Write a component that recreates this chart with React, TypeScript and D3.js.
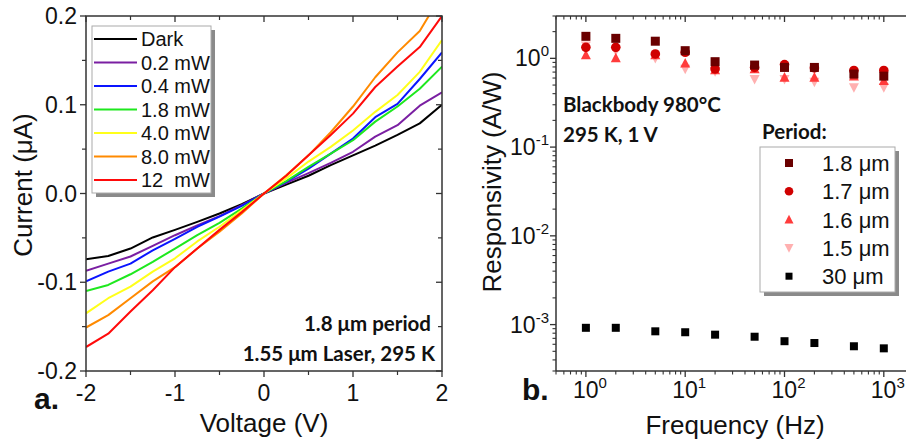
import React from "react";
import * as d3 from "d3";

// ---------- Panel a data ----------
const voltages = [-2, -1.75, -1.5, -1.25, -1, -0.75, -0.5, -0.25, 0, 0.25, 0.5, 0.75, 1, 1.25, 1.5, 1.75, 2];
const ivLabels = ["Dark", "0.2 mW", "0.4 mW", "1.8 mW", "4.0 mW", "8.0 mW", "12  mW"];
const ivColors = ["#000000", "#7a1fa2", "#0a14ff", "#1ee81e", "#ffff1a", "#ff8a00", "#ff0a0a"];
const ivDark = [-0.074, -0.0705, -0.062, -0.0495, -0.041, -0.032, -0.0225, -0.012, 0, 0.01, 0.02, 0.032, 0.043, 0.054, 0.066, 0.079, 0.1];
const iv02 = [-0.087, -0.079, -0.071, -0.059, -0.047, -0.036, -0.0255, -0.013, 0, 0.012, 0.023, 0.0345, 0.047, 0.064, 0.077, 0.099, 0.114];
const iv04 = [-0.099, -0.088, -0.079, -0.064, -0.051, -0.0375, -0.026, -0.014, 0, 0.013, 0.028, 0.045, 0.062, 0.086, 0.101, 0.129, 0.159];
const iv18 = [-0.11, -0.103, -0.091, -0.077, -0.062, -0.047, -0.033, -0.017, 0, 0.014, 0.03, 0.045, 0.06, 0.081, 0.098, 0.118, 0.143];
const iv40 = [-0.135, -0.118, -0.105, -0.088, -0.073, -0.054, -0.0375, -0.019, 0, 0.017, 0.036, 0.0525, 0.071, 0.092, 0.111, 0.137, 0.173];
const iv80 = [-0.151, -0.137, -0.118, -0.099, -0.083, -0.062, -0.043, -0.0225, 0, 0.0205, 0.043, 0.069, 0.098, 0.131, 0.159, 0.183, 0.225];
const iv12 = [-0.173, -0.158, -0.133, -0.109, -0.083, -0.062, -0.041, -0.021, 0, 0.02, 0.043, 0.066, 0.09, 0.12, 0.143, 0.165, 0.2];
const ivSeries = [ivDark, iv02, iv04, iv18, iv40, iv80, iv12];
const aXTicks = [-2, -1, 0, 1, 2];
const aYTicks = [-0.2, -0.1, 0, 0.1, 0.2];
const aYTickLabels = ["-0.2", "-0.1", "0.0", "0.1", "0.2"];

// ---------- Panel b data ----------
const freqs = [1, 2, 5, 10, 20, 50, 100, 200, 500, 1000];
const periodLabels = ["1.8 μm", "1.7 μm", "1.6 μm", "1.5 μm", "30 μm"];
const periodColors = ["#6a0000", "#d00000", "#ff3b3b", "#ffb0b0", "#000000"];
const periodShapes = ["square", "circle", "triangle", "triangleDown", "square"];
const r18 = [1.77, 1.68, 1.56, 1.22, 0.917, 0.84, 0.79, 0.79, 0.665, 0.63];
const r17 = [1.33, 1.33, 1.12, 1.17, 0.76, 0.79, 0.85, 0.78, 0.73, 0.73];
const r16 = [1.09, 1.01, 1.09, 0.88, 0.74, 0.76, 0.61, 0.61, 0.63, 0.56];
const r15 = [1.39, 1.22, 1.0, 0.76, 0.71, 0.58, 0.58, 0.54, 0.47, 0.47];
const r30 = [0.00092, 0.00092, 0.00084, 0.00082, 0.00077, 0.00073, 0.00065, 0.00062, 0.00057, 0.00054];
const respSeries = [r18, r17, r16, r15, r30];
const drawOrder = [3, 2, 1, 0, 4];

const FONT = "'Liberation Sans', Arial, sans-serif";
const BOLDFONT = "Lato, 'Open Sans', sans-serif";
const AX = "#333";

function Marker({ shape, x, y, color, s = 9 }: any) {
  if (shape === "square") return <rect x={x - s / 2} y={y - s / 2} width={s} height={s} fill={color} />;
  if (shape === "circle") return <circle cx={x} cy={y} r={s / 2 + 0.3} fill={color} />;
  const h = s * 0.95;
  if (shape === "triangle")
    return <path d={`M${x},${y - h / 2 - 1} L${x + s / 2 + 0.5},${y + h / 2} L${x - s / 2 - 0.5},${y + h / 2} Z`} fill={color} />;
  return <path d={`M${x},${y + h / 2 + 1} L${x + s / 2 + 0.5},${y - h / 2} L${x - s / 2 - 0.5},${y - h / 2} Z`} fill={color} />;
}

function PanelA() {
  const x = d3.scaleLinear().domain([-2, 2]).range([86, 442]);
  const y = d3.scaleLinear().domain([-0.2, 0.2]).range([371, 16]);
  const line = d3.line<number>().x((_, i) => x(voltages[i])).y((d) => y(d));
  const minorX = d3.range(-1.5, 2, 1);
  const minorY = d3.range(-0.15, 0.2, 0.1);
  return (
    <g>
      <defs>
        <clipPath id="clipA">
          <rect x={86} y={16} width={356} height={355} />
        </clipPath>
      </defs>
      <g clipPath="url(#clipA)">
        {ivSeries.map((s, i) => (
          <path key={i} d={line(s) || ""} fill="none" stroke={ivColors[i]} strokeWidth={2} strokeLinejoin="round" />
        ))}
      </g>
      <rect x={86} y={16} width={356} height={355} fill="none" stroke={AX} strokeWidth={1.5} />
      {aXTicks.map((t) => (
        <g key={"xt" + t}>
          <line x1={x(t)} x2={x(t)} y1={371} y2={377} stroke={AX} strokeWidth={1.3} />
          <line x1={x(t)} x2={x(t)} y1={16} y2={22} stroke={AX} strokeWidth={1.3} />
          <text x={x(t)} y={401} textAnchor="middle" fontFamily={FONT} fontSize={23} fill="#111">
            {t < 0 ? "-" + Math.abs(t) : String(t)}
          </text>
        </g>
      ))}
      {minorX.map((t) => (
        <g key={"xm" + t}>
          <line x1={x(t)} x2={x(t)} y1={371} y2={375} stroke={AX} strokeWidth={1.2} />
          <line x1={x(t)} x2={x(t)} y1={16} y2={20} stroke={AX} strokeWidth={1.2} />
        </g>
      ))}
      {aYTicks.map((t, i) => (
        <g key={"yt" + t}>
          <line x1={80} x2={86} y1={y(t)} y2={y(t)} stroke={AX} strokeWidth={1.3} />
          <line x1={436} x2={442} y1={y(t)} y2={y(t)} stroke={AX} strokeWidth={1.3} />
          <text x={77} y={y(t) + 8} textAnchor="end" fontFamily={FONT} fontSize={23} fill="#111">
            {aYTickLabels[i]}
          </text>
        </g>
      ))}
      {minorY.map((t) => (
        <g key={"ym" + t}>
          <line x1={82} x2={86} y1={y(t)} y2={y(t)} stroke={AX} strokeWidth={1.2} />
          <line x1={438} x2={442} y1={y(t)} y2={y(t)} stroke={AX} strokeWidth={1.2} />
        </g>
      ))}
      <text x={264} y={432} textAnchor="middle" fontFamily={FONT} fontSize={26} fill="#111">
        Voltage (V)
      </text>
      <text transform="translate(32,185) rotate(-90)" textAnchor="middle" fontFamily={FONT} fontSize={26} fill="#111">
        Current (μA)
      </text>
      <text x={34} y={409} fontFamily={FONT} fontWeight="bold" fontSize={30} fill="#111">
        a.
      </text>
      {/* legend */}
      <rect x={96} y={30} width={119} height={167} fill="#8a8a8a" />
      <rect x={92} y={26} width={119} height={167} fill="#fff" stroke="#aaa" strokeWidth={1} />
      {ivLabels.map((l, i) => (
        <g key={l}>
          <line x1={94} x2={137} y1={39 + i * 23.5} y2={39 + i * 23.5} stroke={ivColors[i]} strokeWidth={2} />
          <text x={141} y={46 + i * 23.5} fontFamily={FONT} fontSize={20} fill="#111" style={{ whiteSpace: "pre" }}>
            {l}
          </text>
        </g>
      ))}
      <text x={431} y={331} textAnchor="end" fontFamily={BOLDFONT} fontWeight="bold" fontSize={20.5} fill="#111">
        1.8 μm period
      </text>
      <text x={435} y={361} textAnchor="end" fontFamily={BOLDFONT} fontWeight="bold" fontSize={20.5} fill="#111">
        1.55 μm Laser, 295 K
      </text>
    </g>
  );
}

function Pow({ x, y, exp, anchor = "middle" }: any) {
  return (
    <text x={x} y={y} textAnchor={anchor} fontFamily={FONT} fontSize={23} fill="#111">
      10
      <tspan fontSize={15} dy={-10}>
        {exp}
      </tspan>
    </text>
  );
}

function PanelB() {
  const x = d3.scaleLog().domain([0.5, 2000]).range([556, 913.7]);
  const y = d3.scaleLog().domain([3e-4, 3]).range([371, 16]);
  const xMinor: number[] = [];
  [0.1, 1, 10, 100, 1000].forEach((d) => {
    for (let k = 2; k <= 9; k++) {
      const v = d * k;
      if (v >= 0.5 && v <= 2000) xMinor.push(v);
    }
  });
  const yMinor: number[] = [];
  [1e-4, 1e-3, 1e-2, 1e-1, 1].forEach((d) => {
    for (let k = 2; k <= 9; k++) {
      const v = d * k;
      if (v >= 3e-4 && v <= 3) yMinor.push(v);
    }
  });
  const xMajor = [1, 10, 100, 1000];
  const yMajor = [1e-3, 1e-2, 1e-1, 1];
  const yExp = ["-3", "-2", "-1", "0"];
  return (
    <g>
      <line x1={556} x2={556} y1={16} y2={371} stroke={AX} strokeWidth={1.5} />
      <line x1={556} x2={920} y1={371} y2={371} stroke={AX} strokeWidth={1.5} />
      <line x1={556} x2={920} y1={16} y2={16} stroke={AX} strokeWidth={1.5} />
      {xMajor.map((t, i) => (
        <g key={"xM" + t}>
          <line x1={x(t)} x2={x(t)} y1={371} y2={377} stroke={AX} strokeWidth={1.3} />
          <line x1={x(t)} x2={x(t)} y1={16} y2={22} stroke={AX} strokeWidth={1.3} />
          <Pow x={x(t) + 4} y={398} exp={String(i)} />
        </g>
      ))}
      {xMinor.map((t) => (
        <g key={"xm" + t}>
          <line x1={x(t)} x2={x(t)} y1={371} y2={374.5} stroke={AX} strokeWidth={1.1} />
          <line x1={x(t)} x2={x(t)} y1={16} y2={19.5} stroke={AX} strokeWidth={1.1} />
        </g>
      ))}
      {yMajor.map((t, i) => (
        <g key={"yM" + t}>
          <line x1={550} x2={556} y1={y(t)} y2={y(t)} stroke={AX} strokeWidth={1.3} />
          <Pow x={549} y={y(t) + 8} exp={yExp[i]} anchor="end" />
        </g>
      ))}
      {yMinor.map((t) => (
        <line key={"ym" + t} x1={552.5} x2={556} y1={y(t)} y2={y(t)} stroke={AX} strokeWidth={1.1} />
      ))}
      {drawOrder.map((si) => (
        <g key={"s" + si}>
          {respSeries[si].map((v, j) => (
            <Marker key={j} shape={periodShapes[si]} x={x(freqs[j])} y={y(v)} color={periodColors[si]} s={si === 4 ? 8 : 9} />
          ))}
        </g>
      ))}
      <text x={735} y={434} textAnchor="middle" fontFamily={FONT} fontSize={26} fill="#111">
        Frequency (Hz)
      </text>
      <text transform="translate(501,182) rotate(-90)" textAnchor="middle" fontFamily={FONT} fontSize={26} fill="#111">
        Responsivity (A/W)
      </text>
      <text x={522} y={400} fontFamily={FONT} fontWeight="bold" fontSize={30} fill="#111">
        b.
      </text>
      <text x={563} y={112} fontFamily={BOLDFONT} fontWeight="bold" fontSize={20.5} fill="#111">
        Blackbody 980°C
      </text>
      <text x={563} y={142} fontFamily={BOLDFONT} fontWeight="bold" fontSize={20.5} fill="#111">
        295 K, 1 V
      </text>
      <text x={762} y={139} fontFamily={BOLDFONT} fontWeight="bold" fontSize={20.5} fill="#111">
        Period:
      </text>
      <rect x={764} y={151} width={135} height={145} fill="#8a8a8a" />
      <rect x={760} y={147} width={135} height={145} fill="#fff" stroke="#aaa" strokeWidth={1} />
      {periodLabels.map((l, i) => (
        <g key={l}>
          <Marker shape={periodShapes[i]} x={789} y={163 + i * 28.3} color={periodColors[i]} s={i === 4 ? 7 : 8} />
          <text x={822} y={171 + i * 28.3} fontFamily={FONT} fontSize={22} fill="#111">
            {l}
          </text>
        </g>
      ))}
    </g>
  );
}

export default function App() {
  return (
    <svg
      width={906}
      height={442}
      style={{ position: "absolute", left: 0, top: 0, background: "#fff" }}
      xmlns="http://www.w3.org/2000/svg"
    >
      <rect width={906} height={442} fill="#fff" />
      <PanelA />
      <PanelB />
    </svg>
  );
}
